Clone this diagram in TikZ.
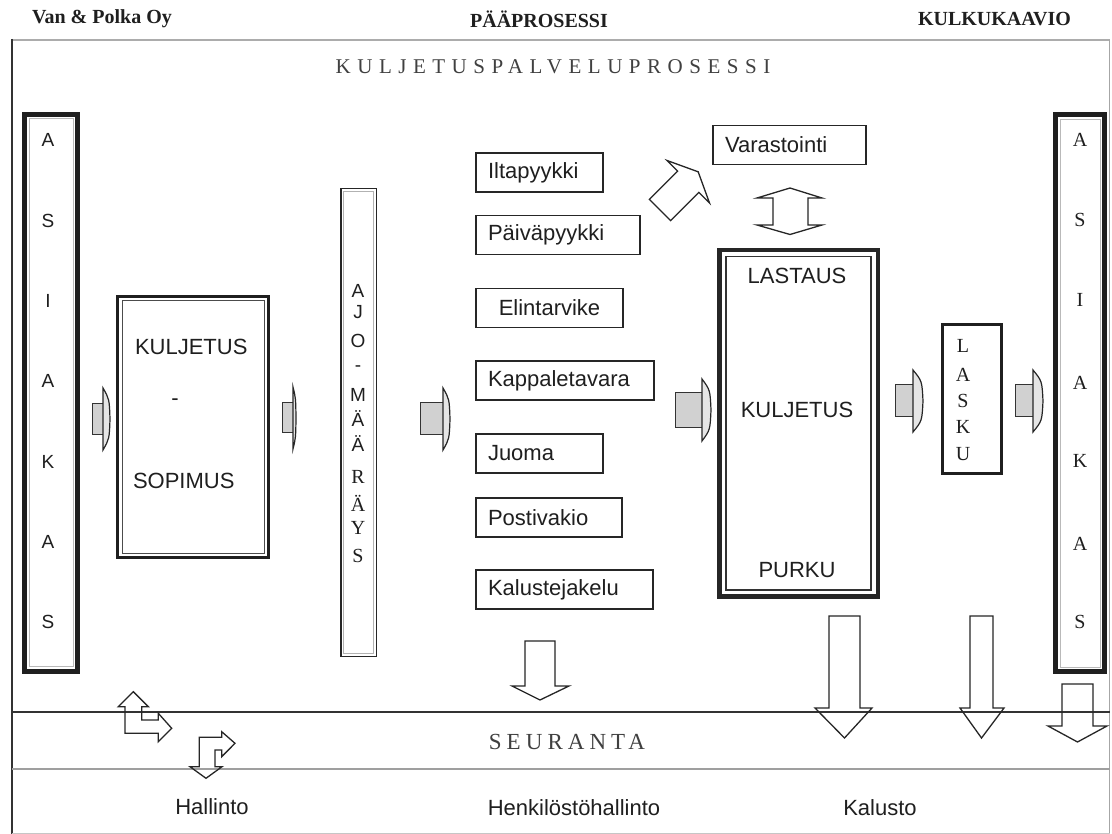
\documentclass[tikz,border=0pt]{standalone}
\usepackage{fontspec}
\setmainfont{Liberation Serif}
\setsansfont{Liberation Sans}
\newfontfamily\spacedserif[LetterSpace=31]{Liberation Serif}
\newfontfamily\spacedserifb[LetterSpace=22]{Liberation Serif}

% small grey block arrow with a flat, bowed head
% #1 body left x, #2 body right x, #3 centre y, #4 body half height, #5 head bulge
\newcommand\flowarrow[5]{%
  \draw[flowbody] (#1,#3-#4) rectangle (#2,#3+#4);
  \draw[flowhead] (#2,#3-31) .. controls (#2+0.9*#5,#3-20) .. (#2+#5,#3)
                  .. controls (#2+0.9*#5,#3+20) .. (#2,#3+31) -- cycle;
}
% hollow arrow pointing down
% #1/#2 body left/right x, #3 top y, #4 head base y, #5/#6 wing x, #7 tip y
\newcommand\hollowdown[7]{%
  \draw[hollow] (#1,#3) -- (#2,#3) -- (#2,#4) -- (#6,#4) -- ({(#1+#2)/2},#7)
                -- (#5,#4) -- (#1,#4) -- cycle;
}

\begin{document}
\begin{tikzpicture}[x=1pt, y=-1pt,
  every node/.style={inner sep=0pt, outer sep=0pt, text=black!88},
  sans/.style={font=\sffamily\fontsize{22}{26}\selectfont},
  hdr/.style={font=\bfseries\fontsize{20}{22}\selectfont},
  spaced/.style={font=\spacedserif\fontsize{21}{24}\selectfont, text=black!75},
  spacedb/.style={font=\spacedserifb\fontsize{23}{26}\selectfont, text=black!75},
  vsans/.style={font=\sffamily\fontsize{19}{22}\selectfont},
  vserif/.style={font=\rmfamily\fontsize{20}{22}\selectfont},
  pbox/.style={draw=black!85, line width=1.5pt, anchor=west, inner xsep=12pt,
               minimum height=39pt, align=left, sans},
  flowbody/.style={draw=black!80, line width=1pt, fill=black!18},
  flowhead/.style={draw=black!85, line width=1.2pt, fill=black!10},
  hollow/.style={draw=black!85, line width=1.3pt, line join=miter},
]
\useasboundingbox (0,0) rectangle (1112,834);
\fill[white] (0,0) rectangle (1112,834);

% page headings
\node[hdr, anchor=west] (firm) at (32,19) {Van \& Polka Oy};
\node[hdr] (mainproc) at (539,19) {PÄÄPROSESSI};
\node[hdr, anchor=east] (chart) at (1071,19) {KULKUKAAVIO};

% outer frame and the monitoring band
\draw[gray!65, line width=2.6pt] (12,40) -- (1110,40);
\draw[black!80, line width=1.8pt] (12,39) -- (12,834);
\draw[gray!70, line width=1.4pt] (1109.5,40) -- (1109.5,834);
\draw[black!80, line width=1.6pt] (12,712) -- (1109.5,712);
\draw[gray!75, line width=2pt] (12,769) -- (1109.5,769);
\draw[gray!45, line width=1pt] (12,833) -- (1109.5,833);

\node[spaced] (title) at (553,67) {KULJETUSPALVELUPROSESSI};

% customer column, left
\node[draw=black!88, line width=5pt, minimum width=53pt, minimum height=557pt] (asiakasL) at (51,392.75) {};
\draw[gray!55, line width=0.8pt] ([shift={(4.5,4.5)}]asiakasL.north west) rectangle ([shift={(-4.5,-4.5)}]asiakasL.south east);
\foreach \ch/\yy [count=\i] in {A/140,S/220.5,I/301,A/381,K/462,A/542,S/622}
  \node[vsans] (aL\i) at (48,\yy) {\ch};

% contract
\node[draw=black!88, line width=3pt, minimum width=151pt, minimum height=261pt] (sopimus) at (193,427) {};
\draw[black!70, line width=1pt] ([shift={(4.5,4.5)}]sopimus.north west) rectangle ([shift={(-4.5,-4.5)}]sopimus.south east);
\node[sans, anchor=west] (sopA) at (135,347) {KULJETUS};
\node[sans] (sopB) at (175,402) {-};
\node[sans, anchor=west] (sopC) at (133,481) {SOPIMUS};

% driving order
\node[draw=black!85, line width=1.5pt, minimum width=35.5pt, minimum height=467.5pt] (ajo) at (358.5,422.5) {};
\draw[gray!60, line width=0.7pt] ([shift={(3,3)}]ajo.north west) rectangle ([shift={(-3,-3)}]ajo.south east);
\foreach \ch/\yy [count=\i] in {A/291,J/312,O/341,-/369,M/395,Ä/419,Ä/444}
  \node[vsans] (ajoA\i) at (358,\yy) {\ch};
\foreach \ch/\yy [count=\i] in {R/477,Ä/503,Y/528,S/556}
  \node[vserif] (ajoB\i) at (358,\yy) {\ch};

% product groups
\node[pbox, text width=103pt] (ilta) at (476,172.5) {Iltapyykki};
\node[pbox, text width=140pt] (paiva) at (476,235) {Päiväpyykki};
\node[pbox, text width=123pt, align=center] (elin) at (476,308) {Elintarvike};
\node[pbox, text width=154pt] (kappale) at (476,380.5) {Kappaletavara};
\node[pbox, text width=103pt] (juoma) at (476,453.5) {Juoma};
\node[pbox, text width=122pt] (posti) at (476,517.5) {Postivakio};
\node[pbox, text width=153pt] (kaluste) at (476,589.5) {Kalustejakelu};
\node[pbox, text width=129pt] (varasto) at (713,145) {Varastointi};

% loading / transport / unloading
\node[draw=black!85, line width=4.5pt, minimum width=158.5pt, minimum height=346.7pt] (lastaus) at (798.5,423.3) {};
\draw[black!80, line width=1.8pt] ([shift={(6.5,6.5)}]lastaus.north west) rectangle ([shift={(-6.5,-6.5)}]lastaus.south east);
\node[sans] (lastA) at (797,276) {LASTAUS};
\node[sans] (lastB) at (797,410) {KULJETUS};
\node[sans] (lastC) at (797,570) {PURKU};

% invoice
\node[draw=black!88, line width=3pt, minimum width=59pt, minimum height=149pt] (lasku) at (972,399) {};
\foreach \ch/\yy [count=\i] in {L/346,A/375,S/401,K/427,U/454}
  \node[vserif] (lk\i) at (963,\yy) {\ch};

% customer column, right
\node[draw=black!88, line width=5pt, minimum width=49pt, minimum height=557pt] (asiakasR) at (1080,393) {};
\draw[gray!55, line width=0.8pt] ([shift={(4.5,4.5)}]asiakasR.north west) rectangle ([shift={(-4.5,-4.5)}]asiakasR.south east);
\foreach \ch/\yy [count=\i] in {A/140,S/220,I/300,A/383,K/461,A/544,S/622}
  \node[vserif] (aR\i) at (1080,\yy) {\ch};

% process flow arrows
\flowarrow{92}{103}{419}{15.5}{7}
\flowarrow{282}{293}{418}{15}{3}
\flowarrow{420}{443}{419}{16}{7}
\flowarrow{675}{702}{410}{17.5}{9}
\flowarrow{895}{913}{401}{16}{10}
\flowarrow{1015}{1033}{401}{16}{10}

% to storage
\begin{scope}[shift={(660,210)}, rotate=45]
  \draw[hollow] (0,-15) -- (40,-15) -- (40,-30) -- (54,0) -- (40,30) -- (40,15) -- (0,15) -- cycle;
\end{scope}
% storage <-> loading
\draw[hollow] (790,188) -- (822,198) -- (808,198) -- (808,225) -- (822,225) -- (790,234.5)
  -- (757,225) -- (773,225) -- (773,198) -- (757,198) -- cycle;

% arrows into monitoring
\hollowdown{525}{555}{641}{686}{512}{569}{700}
\hollowdown{829}{860}{616}{708}{815}{872}{738}
\hollowdown{970}{993}{616}{708}{960}{1004}{738}
\hollowdown{1062}{1093}{684}{726}{1048}{1107}{742}

% administration arrows
\draw[hollow] (118.3,706.7) -- (133.3,691.7) -- (148.3,706.7) -- (141.7,706.7) -- (141.7,720)
  -- (158.3,720) -- (158.3,713.3) -- (171.7,728.3) -- (158.3,741.7) -- (158.3,733.3)
  -- (125,733.3) -- (125,706.7) -- cycle;
\draw[hollow] (199.3,737.3) -- (221.7,737.3) -- (221.7,731.7) -- (235,743.3) -- (221.7,756.7)
  -- (221.7,750) -- (215,750) -- (215,766.7) -- (222,766.7) -- (206,778.3) -- (190,766.7)
  -- (199.3,766.7) -- cycle;

\node[spacedb] (seuranta) at (567,742) {SEURANTA};
\node[sans] (hallinto) at (212,807) {Hallinto};
\node[sans] (henkilo) at (574,808) {Henkilöstöhallinto};
\node[sans] (kalusto) at (880,808) {Kalusto};
\end{tikzpicture}
\end{document}
